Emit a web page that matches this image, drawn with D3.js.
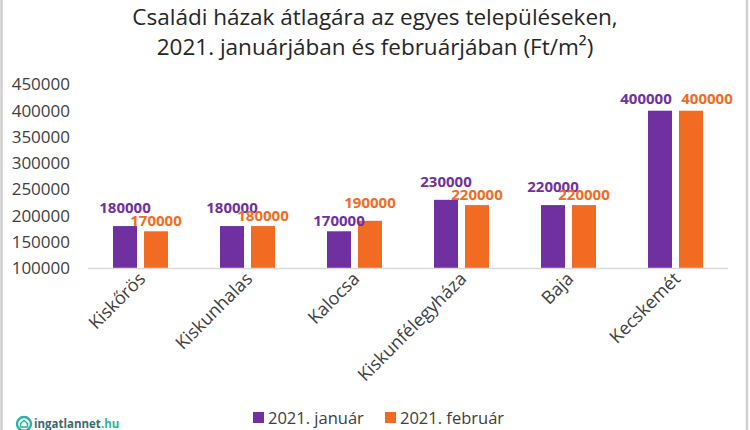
<!DOCTYPE html>
<html>
<head>
<meta charset="utf-8">
<script src="https://cdn.jsdelivr.net/npm/d3@7/dist/d3.min.js"></script>
<style>
  html, body { margin: 0; padding: 0; background: #fff; }
  svg { display: block; }
  text { font-family: "Open Sans", "DejaVu Sans", sans-serif; }
</style>
</head>
<body>
<svg id="chart" width="750" height="430"></svg>
<script>
const categories = ["Kiskőrös", "Kiskunhalas", "Kalocsa", "Kiskunfélegyháza", "Baja", "Kecskemét"];
const seriesNames = ["2021. január", "2021. február"];
const januar = [180000, 180000, 170000, 230000, 220000, 400000];
const februar = [170000, 180000, 190000, 220000, 220000, 400000];
const yTicks = [100000, 150000, 200000, 250000, 300000, 350000, 400000, 450000];
const titleLines = ["Családi házak átlagára az egyes településeken,", "2021. januárjában és februárjában (Ft/m²)"];

const colors = ["#7030a0", "#f26b22"];
const seriesValues = [januar, februar];

const svg = d3.select("#chart");
const W = 750, H = 430;

// frame
svg.append("rect").attr("x", 1.5).attr("y", -2).attr("width", W - 4.5).attr("height", H + 4)
  .attr("fill", "#fff").attr("stroke", "#d0d0d0").attr("stroke-width", 2.5);

// title
svg.append("g").selectAll("text").data(titleLines).join("text")
  .attr("x", 375).attr("y", (d, i) => 25 + i * 30)
  .attr("text-anchor", "middle").attr("font-size", 22.5).attr("fill", "#262626")
  .text(d => d);

const y = d3.scaleLinear().domain([100000, 450000]).range([268, 84.5]);
const x0 = d3.scaleBand().domain(categories).range([87, 729]).paddingInner(0.486).paddingOuter(0.243);
const x1 = d3.scaleBand().domain(seriesNames).range([0, x0.bandwidth()]).paddingInner(0.226);

// y axis labels
const yAxis = d3.axisLeft(y).tickValues(yTicks).tickSize(0).tickPadding(0).tickFormat(d3.format("d"));
const gy = svg.append("g").attr("transform", "translate(70,0)").call(yAxis);
gy.select(".domain").remove();
gy.selectAll("text").attr("font-size", 17).attr("fill", "#404040").attr("font-family", "'Open Sans', sans-serif");

// bars
const groups = svg.append("g").selectAll("g").data(categories).join("g")
  .attr("transform", d => `translate(${x0(d)},0)`);

groups.selectAll("rect").data((c, ci) => seriesNames.map((s, si) => ({ s, si, v: seriesValues[si][ci] })))
  .join("rect")
  .attr("x", d => x1(d.s))
  .attr("width", x1.bandwidth())
  .attr("y", d => y(d.v))
  .attr("height", d => y(100000) - y(d.v))
  .attr("fill", d => colors[d.si]);

// x axis (baseline + rotated labels)
const xAxis = d3.axisBottom(x0).tickSize(0).tickPadding(0);
const gx = svg.append("g").attr("transform", `translate(0,${y(100000)})`).call(xAxis);
gx.select(".domain").attr("stroke", "#d9d9d9").attr("stroke-width", 1.3).attr("d", "M88,0.5H728");
gx.selectAll(".tick text")
  .attr("font-size", 18).attr("fill", "#404040").attr("font-family", "'Open Sans', sans-serif")
  .attr("text-anchor", "end").attr("dy", 0).attr("y", 0)
  .attr("transform", "translate(6,12) rotate(-45)");

// data labels with simple collision handling
const labelG = svg.append("g");
categories.forEach((c, ci) => {
  const vals = seriesValues.map(s => s[ci]);
  const last = ci === categories.length - 1;
  const hi = vals[1] > vals[0] ? 1 : 0;
  seriesNames.forEach((s, si) => {
    const v = vals[si];
    const cx = x0(c) + x1(s) + x1.bandwidth() / 2;
    let lx = cx, ly;
    if (last) {
      // room on the right: spread labels horizontally instead
      lx = cx + (si === 0 ? -14 : 16);
      ly = y(v) - 7;
    } else {
      ly = y(v) - (si === hi ? 13 : 5);
    }
    labelG.append("text")
      .attr("x", lx).attr("y", ly)
      .attr("text-anchor", "middle").attr("font-size", 15).attr("font-weight", 700)
      .attr("fill", colors[si])
      .text(d3.format("d")(v));
  });
});

// legend
const legendX = [253, 385];
const lg = svg.append("g").selectAll("g").data(seriesNames).join("g")
  .attr("transform", (d, i) => `translate(${legendX[i]},0)`);
lg.append("rect").attr("x", 0).attr("y", 412).attr("width", 11).attr("height", 11).attr("fill", (d, i) => colors[i]);
lg.append("text").attr("x", 15).attr("y", 423.5).attr("font-size", 16.5).attr("fill", "#404040").text(d => d);

// logo
const logo = svg.append("g");
logo.append("circle").attr("cx", 24).attr("cy", 424).attr("r", 7).attr("fill", "none").attr("stroke", "#2bb3a0").attr("stroke-width", 2.4);
logo.append("path").attr("d", "M20.5,427 V423.5 L24,420.5 L27.5,423.5 V427 Z").attr("fill", "none").attr("stroke", "#2bb3a0").attr("stroke-width", 1.6);
const lt = logo.append("text").attr("x", 34).attr("y", 428).attr("font-size", 11.5).attr("font-weight", 700);
lt.append("tspan").attr("fill", "#3d6a6c").text("ingatlannet");
lt.append("tspan").attr("fill", "#2bb3a0").text(".hu");
</script>
</body>
</html>
